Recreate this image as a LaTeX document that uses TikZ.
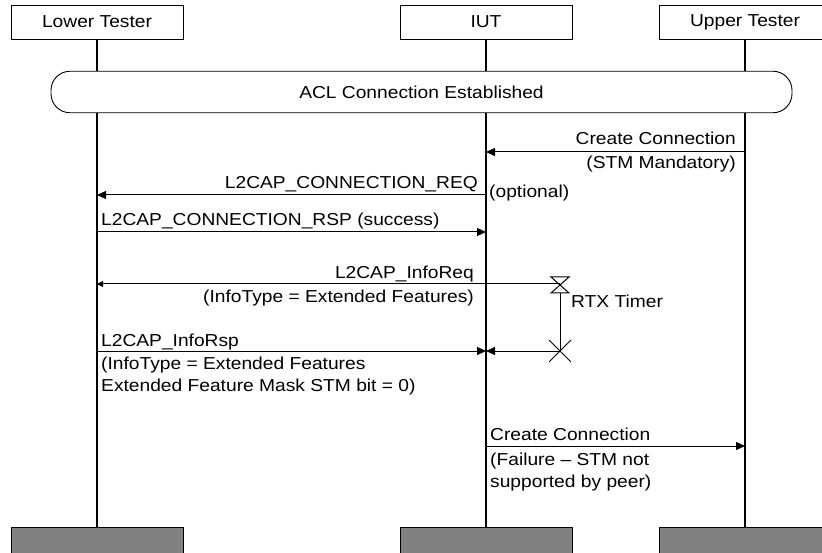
\documentclass[tikz,border=0pt]{standalone}
\usepackage{fontspec}
\setmainfont{Liberation Sans}[FakeStretch=1.11]
\usetikzlibrary{arrows.meta}
\definecolor{boxgray}{HTML}{808080}
\begin{document}
\begin{tikzpicture}[x=1pt,y=-1pt,
  font=\fontsize{17.3}{22}\selectfont,
  actor/.style={draw, line width=0.9pt, minimum width=172pt, minimum height=34pt, inner sep=0pt},
  endbox/.style={actor, fill=boxgray, minimum height=36pt},
  pill/.style={draw, line width=0.9pt, rounded corners=19pt, minimum width=741pt, minimum height=41.5pt, inner sep=0pt},
  life/.style={line width=1.6pt},
  msg/.style={line width=1pt, -{Triangle[length=9pt,width=8pt]}},
  lbl/.style={inner sep=0pt},
  timer/.style={line width=1pt}]
\useasboundingbox (0,0) rectangle (822,553);
\clip (0,0) rectangle (822,553);

% actors
\node[actor] (lt) at (97,22) {Lower Tester};
\node[actor] (iut) at (486,22) {IUT};
\node[actor] (ut) at (745,22) {Upper Tester};
\node[pill] (acl) at (421.5,92) {ACL Connection Established};
\node[endbox] (lte) at (97,545) {};
\node[endbox] (iute) at (486,545) {};
\node[endbox] (ute) at (745,545) {};

% lifelines
\foreach \a/\b in {lt/lte, iut/iute, ut/ute}{
  \draw[life] (\a.south) -- (\a.south |- acl.north);
  \draw[life] (\a.south |- acl.south) -- (\b.north);
}

% coordinates on lifelines
\coordinate (u1) at (745,152);  \coordinate (i1) at (486,152);
\coordinate (i2) at (486,195);  \coordinate (l2) at (97,195);
\coordinate (l3) at (97,232);   \coordinate (i3) at (486,232);
\coordinate (t4) at (560,284);  \coordinate (l4) at (97,284);
\coordinate (t5) at (560,351);  \coordinate (i5) at (486,351);
\coordinate (l5) at (97,351);
\coordinate (i6) at (486,446);  \coordinate (u6) at (745,446);

% 1 Create Connection
\draw[msg] (u1) -- (i1);
\node[lbl, anchor=base east] (c1a) at (736,145) {Create Connection};
\node[lbl, anchor=base east] (c1b) at (736,169) {(STM Mandatory)};

% 2 REQ
\draw[msg] (i2) -- (l2);
\node[lbl, anchor=base east] (c2a) at (478,189) {L2CAP\_CONNECTION\_REQ};
\node[lbl, anchor=base west] (c2b) at (489,198) {(optional)};

% 3 RSP
\draw[msg] (l3) -- (i3);
\node[lbl, anchor=base west] (c3a) at (101,226) {L2CAP\_CONNECTION\_RSP (success)};

% 4 InfoReq
\draw[line width=1pt, -{Triangle[length=6pt,width=6pt]}] (t4) -- (l4);
\node[lbl, anchor=base east] (c4a) at (474,279) {L2CAP\_InfoReq};
\node[lbl, anchor=base east] (c4b) at (474,303) {(InfoType = Extended Features)};

% timer
\draw[timer] (551,277) -- (569,277) -- (551,293) -- (569,293) -- cycle;
\draw[timer] (560,293) -- (t5);
\draw[timer] (549,340) -- (571,362) (549,362) -- (571,340);
\node[lbl, anchor=base west] (rtx) at (571,308) {RTX Timer};

% 5 InfoRsp
\draw[msg] (t5) -- (i5);
\draw[msg] (l5) -- (i5);
\node[lbl, anchor=base west] (c5a) at (101,346) {L2CAP\_InfoRsp};
\node[lbl, anchor=base west] (c5b) at (101,369) {(InfoType = Extended Features};
\node[lbl, anchor=base west] (c5c) at (101,391) {Extended Feature Mask STM bit = 0)};

% 6 Create Connection
\draw[msg] (i6) -- (u6);
\node[lbl, anchor=base west] (c6a) at (490,440) {Create Connection};
\node[lbl, anchor=base west] (c6b) at (490,465) {(Failure – STM not};
\node[lbl, anchor=base west] (c6c) at (490,487) {supported by peer)};
\end{tikzpicture}
\end{document}
